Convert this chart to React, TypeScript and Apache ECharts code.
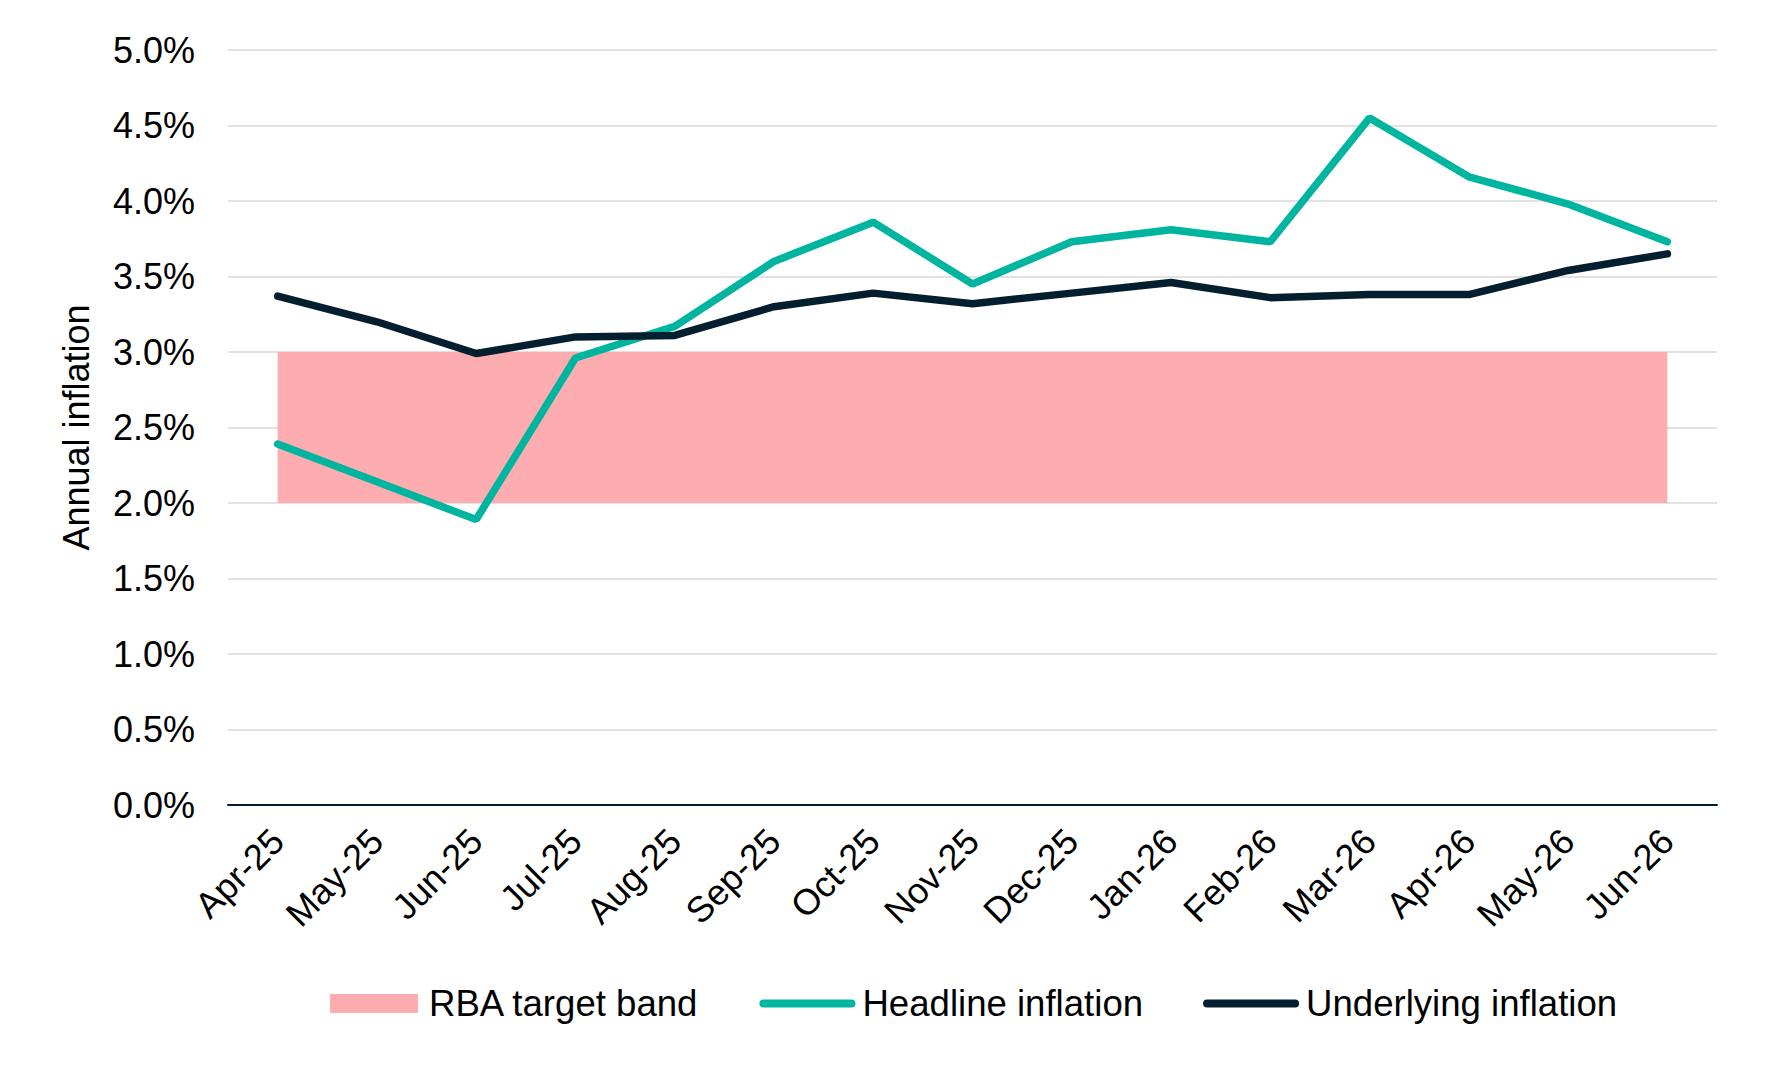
import React, { useEffect, useRef } from "react";
import * as echarts from "echarts";

const categories = [
  "Apr-25", "May-25", "Jun-25", "Jul-25", "Aug-25", "Sep-25", "Oct-25", "Nov-25",
  "Dec-25", "Jan-26", "Feb-26", "Mar-26", "Apr-26", "May-26", "Jun-26",
];
const headline = [2.39, 2.14, 1.89, 2.96, 3.17, 3.6, 3.86, 3.45, 3.73, 3.81, 3.73, 4.55, 4.16, 3.98, 3.73];
const underlying = [3.37, 3.2, 2.99, 3.1, 3.11, 3.3, 3.39, 3.32, 3.39, 3.46, 3.36, 3.38, 3.38, 3.54, 3.65];
const bandLow = 2.0;
const bandHigh = 3.0;
const yTicks = { min: 0, max: 5, interval: 0.5 };

const FONT = "Liberation Sans, Arial, sans-serif";
const TEAL = "#00B5A0";
const NAVY = "#031E2F";
const PINK = "#FDACAF";

export default function App() {
  const ref = useRef<HTMLDivElement>(null);
  useEffect(() => {
    if (!ref.current) return;
    const chart = echarts.init(ref.current, null, { renderer: "svg" });
    chart.setOption({
      animation: false,
      backgroundColor: "#ffffff",
      textStyle: { fontFamily: FONT },
      grid: { left: 228, right: 51, top: 50, bottom: 263, containLabel: false },
      legend: {
        left: 325,
        top: 980,
        itemWidth: 88,
        itemHeight: 19,
        itemGap: 60,
        textStyle: { fontFamily: FONT, fontSize: 36.6, color: "#000", padding: [0, 0, 0, 6] },
        data: [
          { name: "RBA target band", icon: "rect", itemStyle: { color: PINK, borderWidth: 0 } },
          {
            name: "Headline inflation",
            itemStyle: { opacity: 0 },
            lineStyle: { width: 8, color: TEAL, cap: "round" },
          },
          {
            name: "Underlying inflation",
            itemStyle: { opacity: 0 },
            lineStyle: { width: 8, color: NAVY, cap: "round" },
          },
        ],
      },
      xAxis: {
        type: "category",
        data: categories,
        boundaryGap: true,
        axisLine: { lineStyle: { color: NAVY, width: 2 } },
        axisTick: { show: false },
        axisLabel: { rotate: 45, fontSize: 36, color: "#000", fontFamily: FONT, margin: 30, interval: 0 },
      },
      yAxis: {
        type: "value",
        min: yTicks.min,
        max: yTicks.max,
        interval: yTicks.interval,
        name: "Annual inflation",
        nameLocation: "middle",
        nameRotate: 90,
        nameGap: 134,
        nameTextStyle: { fontSize: 36, color: "#000", fontFamily: FONT },
        axisLine: { show: false },
        axisTick: { show: false },
        splitLine: { lineStyle: { color: "#D9D9D9", width: 1.5 } },
        axisLabel: {
          fontSize: 36,
          color: "#000",
          fontFamily: FONT,
          margin: 33,
          formatter: (v: number) => v.toFixed(1) + "%",
        },
      },
      series: [
        {
          name: "RBA target band",
          type: "line",
          data: [],
          itemStyle: { color: PINK },
          lineStyle: { width: 0 },
          symbol: "none",
          z: 1,
          markArea: {
            silent: true,
            itemStyle: { color: PINK, opacity: 1 },
            data: [
              [
                { xAxis: categories[0], yAxis: bandLow },
                { xAxis: categories[categories.length - 1], yAxis: bandHigh },
              ],
            ],
          },
        },
        {
          name: "Headline inflation",
          type: "line",
          data: headline,
          symbol: "none",
          itemStyle: { color: TEAL },
          lineStyle: { color: TEAL, width: 7.5, cap: "round" },
          z: 3,
        },
        {
          name: "Underlying inflation",
          type: "line",
          data: underlying,
          symbol: "none",
          itemStyle: { color: NAVY },
          lineStyle: { color: NAVY, width: 7.5, cap: "round" },
          z: 4,
        },
      ],
    });
    return () => chart.dispose();
  }, []);
  return (
    <div
      ref={ref}
      style={{ position: "fixed", left: 0, top: 0, width: 1768, height: 1068, background: "#fff" }}
    />
  );
}
